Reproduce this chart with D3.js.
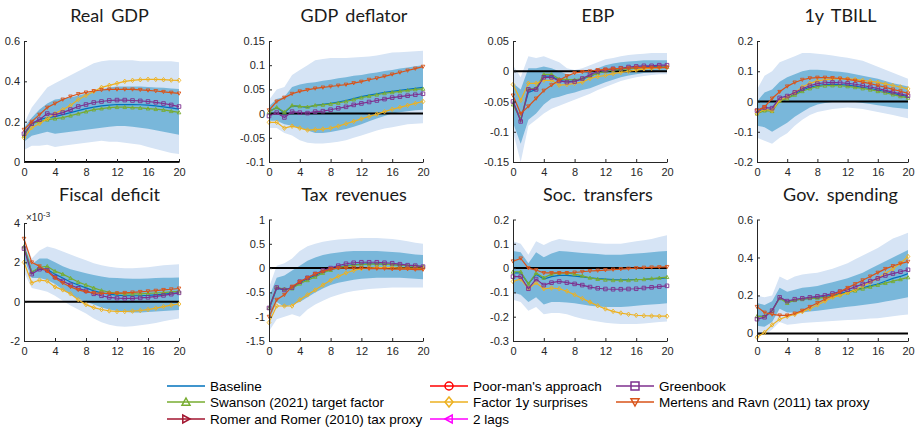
<!DOCTYPE html>
<html>
<head>
<meta charset="utf-8">
<script src="https://cdn.jsdelivr.net/npm/d3@7"></script>
<style>
  body { margin: 0; background: #fff; }
  svg { display: block; }
</style>
</head>
<body>
<svg id="chart" width="916" height="427"></svg>
<script>
(function () {
  'use strict';

  // ── Data: horizons (quarters) ──
  var HORIZONS = [0, 1, 2, 3, 4, 5, 6, 7, 8, 9, 10, 11, 12, 13, 14, 15, 16, 17, 18, 19, 20];
  var X_TICKS = [0, 4, 8, 12, 16, 20];

  // ── Real GDP ──
  var gdpOuterHi = [0.19, 0.27, 0.32, 0.37, 0.39, 0.41, 0.43, 0.45, 0.47, 0.49, 0.50, 0.505, 0.505, 0.505, 0.505, 0.50, 0.50, 0.50, 0.50, 0.50, 0.495];
  var gdpOuterLo = [0.06, 0.08, 0.08, 0.085, 0.075, 0.08, 0.085, 0.09, 0.095, 0.10, 0.105, 0.10, 0.10, 0.095, 0.09, 0.085, 0.075, 0.065, 0.055, 0.045, 0.04];
  var gdpInnerHi = [0.17, 0.22, 0.26, 0.29, 0.31, 0.315, 0.32, 0.33, 0.34, 0.35, 0.36, 0.37, 0.375, 0.375, 0.375, 0.375, 0.372, 0.37, 0.368, 0.365, 0.362];
  var gdpInnerLo = [0.10, 0.13, 0.14, 0.15, 0.14, 0.145, 0.15, 0.155, 0.16, 0.165, 0.17, 0.175, 0.178, 0.178, 0.175, 0.17, 0.165, 0.158, 0.15, 0.142, 0.135];
  var gdpBase = [0.14, 0.19, 0.21, 0.22, 0.225, 0.235, 0.245, 0.255, 0.265, 0.272, 0.278, 0.282, 0.285, 0.285, 0.285, 0.284, 0.282, 0.278, 0.273, 0.268, 0.262];
  var gdpSwanson = [0.13, 0.19, 0.20, 0.21, 0.215, 0.22, 0.23, 0.24, 0.25, 0.26, 0.265, 0.27, 0.272, 0.272, 0.27, 0.268, 0.265, 0.262, 0.258, 0.252, 0.246];
  var gdpFactor = [0.12, 0.17, 0.19, 0.215, 0.24, 0.26, 0.28, 0.31, 0.33, 0.35, 0.37, 0.38, 0.39, 0.40, 0.405, 0.408, 0.41, 0.41, 0.408, 0.406, 0.405];
  var gdpGreenbook = [0.14, 0.19, 0.21, 0.24, 0.235, 0.245, 0.26, 0.275, 0.285, 0.295, 0.30, 0.305, 0.307, 0.307, 0.305, 0.303, 0.30, 0.296, 0.29, 0.283, 0.275];
  var gdpMertens = [0.16, 0.20, 0.235, 0.27, 0.29, 0.31, 0.325, 0.337, 0.345, 0.352, 0.357, 0.36, 0.36, 0.36, 0.36, 0.358, 0.355, 0.352, 0.348, 0.344, 0.34];

  // ── GDP deflator ──
  var defOuterHi = [0.028, 0.05, 0.055, 0.08, 0.09, 0.10, 0.11, 0.113, 0.115, 0.115, 0.115, 0.116, 0.117, 0.118, 0.12, 0.123, 0.126, 0.127, 0.128, 0.129, 0.13];
  var defOuterLo = [-0.03, -0.03, -0.04, -0.045, -0.055, -0.06, -0.062, -0.062, -0.06, -0.058, -0.055, -0.05, -0.045, -0.04, -0.035, -0.031, -0.028, -0.025, -0.022, -0.021, -0.02];
  var defInnerHi = [0.015, 0.03, 0.035, 0.055, 0.06, 0.063, 0.065, 0.068, 0.07, 0.073, 0.075, 0.078, 0.08, 0.083, 0.085, 0.088, 0.09, 0.093, 0.095, 0.098, 0.10];
  var defInnerLo = [-0.015, -0.015, -0.022, -0.025, -0.03, -0.035, -0.04, -0.04, -0.038, -0.035, -0.032, -0.027, -0.022, -0.016, -0.01, -0.005, 0.0, 0.003, 0.005, 0.007, 0.008];
  var defBase = [0.005, 0.012, 0.002, 0.016, 0.015, 0.013, 0.017, 0.019, 0.021, 0.024, 0.027, 0.031, 0.035, 0.038, 0.041, 0.044, 0.046, 0.048, 0.05, 0.052, 0.054];
  var defSwanson = [0.003, 0.013, 0.003, 0.017, 0.015, 0.014, 0.017, 0.018, 0.02, 0.022, 0.025, 0.029, 0.033, 0.036, 0.039, 0.042, 0.044, 0.046, 0.048, 0.05, 0.051];
  var defFactor = [-0.018, -0.018, -0.03, -0.026, -0.03, -0.034, -0.033, -0.032, -0.03, -0.026, -0.021, -0.016, -0.011, -0.006, -0.001, 0.004, 0.009, 0.013, 0.017, 0.021, 0.025];
  var defGreenbook = [-0.005, 0.002, -0.008, 0.004, 0.002, 0.001, 0.004, 0.005, 0.008, 0.011, 0.014, 0.018, 0.021, 0.024, 0.027, 0.03, 0.033, 0.035, 0.037, 0.039, 0.041];
  var defMertens = [0.007, 0.025, 0.033, 0.041, 0.046, 0.049, 0.052, 0.054, 0.056, 0.058, 0.06, 0.063, 0.066, 0.07, 0.073, 0.077, 0.081, 0.085, 0.089, 0.093, 0.097];

  // ── EBP ──
  var ebpOuterHi = [0.01, -0.01, 0.025, 0.022, 0.025, 0.02, 0.015, 0.005, 0.002, 0.005, 0.01, 0.015, 0.02, 0.022, 0.025, 0.027, 0.028, 0.029, 0.03, 0.03, 0.03];
  var ebpOuterLo = [-0.10, -0.15, -0.09, -0.08, -0.07, -0.062, -0.057, -0.052, -0.047, -0.042, -0.037, -0.031, -0.026, -0.021, -0.016, -0.013, -0.01, -0.008, -0.006, -0.005, -0.005];
  var ebpInnerHi = [-0.02, -0.03, 0.005, 0.005, 0.008, 0.005, 0.0, -0.005, -0.005, -0.003, 0.0, 0.005, 0.01, 0.013, 0.015, 0.016, 0.017, 0.018, 0.018, 0.018, 0.018];
  var ebpInnerLo = [-0.085, -0.12, -0.08, -0.07, -0.055, -0.045, -0.042, -0.038, -0.035, -0.031, -0.028, -0.023, -0.018, -0.014, -0.01, -0.007, -0.005, -0.003, -0.002, -0.001, 0.0];
  var ebpBase = [-0.05, -0.08, -0.035, -0.03, -0.008, -0.008, -0.015, -0.017, -0.016, -0.013, -0.008, -0.003, 0, 0.002, 0.004, 0.005, 0.006, 0.007, 0.008, 0.008, 0.008];
  var ebpSwanson = [-0.055, -0.08, -0.03, -0.028, -0.005, -0.005, -0.013, -0.014, -0.014, -0.012, -0.008, -0.003, 0, 0.002, 0.003, 0.004, 0.005, 0.006, 0.006, 0.007, 0.007];
  var ebpFactor = [-0.022, -0.048, -0.02, -0.02, -0.015, -0.015, -0.023, -0.022, -0.02, -0.018, -0.012, -0.009, -0.007, -0.004, -0.002, 0, 0.002, 0.004, 0.005, 0.006, 0.007];
  var ebpGreenbook = [-0.05, -0.083, -0.03, -0.03, -0.01, -0.01, -0.016, -0.018, -0.017, -0.012, -0.006, 0, 0.002, 0.004, 0.005, 0.007, 0.008, 0.009, 0.009, 0.01, 0.01];
  var ebpMertens = [-0.04, -0.07, -0.058, -0.045, -0.032, -0.023, -0.015, -0.008, -0.003, -0.001, 0, 0.002, 0.003, 0.004, 0.005, 0.005, 0.006, 0.006, 0.006, 0.006, 0.006];

  // ── 1y TBILL ──
  var tbOuterHi = [0.04, 0.085, 0.10, 0.13, 0.14, 0.15, 0.16, 0.16, 0.158, 0.155, 0.152, 0.148, 0.145, 0.14, 0.135, 0.125, 0.115, 0.105, 0.095, 0.085, 0.075];
  var tbOuterLo = [-0.12, -0.13, -0.14, -0.12, -0.105, -0.08, -0.06, -0.045, -0.035, -0.03, -0.025, -0.022, -0.02, -0.022, -0.025, -0.03, -0.035, -0.04, -0.045, -0.05, -0.055];
  var tbInnerHi = [0.0, 0.03, 0.04, 0.065, 0.08, 0.09, 0.10, 0.105, 0.105, 0.103, 0.10, 0.098, 0.095, 0.09, 0.085, 0.08, 0.075, 0.068, 0.06, 0.055, 0.05];
  var tbInnerLo = [-0.08, -0.085, -0.10, -0.085, -0.07, -0.05, -0.035, -0.02, -0.01, -0.005, -0.002, 0.0, 0.0, -0.002, -0.005, -0.008, -0.012, -0.016, -0.02, -0.022, -0.025];
  var tbBase = [-0.035, -0.025, -0.028, 0.005, 0.013, 0.025, 0.038, 0.047, 0.053, 0.056, 0.057, 0.056, 0.054, 0.051, 0.047, 0.043, 0.038, 0.033, 0.027, 0.021, 0.016];
  var tbSwanson = [-0.04, -0.03, -0.032, 0.002, 0.01, 0.022, 0.034, 0.043, 0.049, 0.052, 0.053, 0.052, 0.05, 0.047, 0.043, 0.039, 0.034, 0.029, 0.023, 0.017, 0.012];
  var tbFactor = [-0.04, -0.025, -0.03, 0.005, 0.015, 0.03, 0.048, 0.06, 0.068, 0.072, 0.075, 0.076, 0.075, 0.073, 0.07, 0.067, 0.063, 0.058, 0.053, 0.048, 0.042];
  var tbGreenbook = [-0.03, -0.02, -0.022, 0.012, 0.018, 0.03, 0.042, 0.052, 0.059, 0.062, 0.063, 0.062, 0.06, 0.057, 0.053, 0.048, 0.043, 0.037, 0.031, 0.025, 0.019];
  var tbMertens = [-0.03, -0.018, 0.01, 0.032, 0.05, 0.063, 0.072, 0.077, 0.079, 0.079, 0.078, 0.076, 0.073, 0.069, 0.064, 0.059, 0.053, 0.047, 0.04, 0.034, 0.027];

  // ── Fiscal deficit (x 1e-3) ──
  var fdOuterHi = [3.2, 2.2, 2.6, 2.8, 2.7, 2.55, 2.4, 2.25, 2.1, 1.95, 1.85, 1.78, 1.72, 1.7, 1.7, 1.72, 1.75, 1.8, 1.85, 1.88, 1.9];
  var fdOuterLo = [1.5, 0.7, 0.6, 0.5, 0.3, 0.05, -0.2, -0.4, -0.6, -0.85, -1.05, -1.18, -1.25, -1.27, -1.25, -1.2, -1.15, -1.08, -1.0, -0.92, -0.85];
  var fdInnerHi = [2.9, 1.9, 2.2, 2.2, 2.0, 1.8, 1.65, 1.55, 1.45, 1.35, 1.28, 1.22, 1.2, 1.18, 1.17, 1.17, 1.18, 1.2, 1.21, 1.22, 1.23];
  var fdInnerLo = [2.2, 1.2, 1.2, 1.1, 0.9, 0.6, 0.35, 0.15, 0.0, -0.15, -0.3, -0.4, -0.48, -0.52, -0.55, -0.55, -0.53, -0.5, -0.47, -0.45, -0.42];
  var fdBase = [2.8, 1.5, 1.7, 1.65, 1.4, 1.2, 1.0, 0.85, 0.7, 0.55, 0.45, 0.38, 0.33, 0.3, 0.3, 0.3, 0.32, 0.35, 0.38, 0.42, 0.45];
  var fdSwanson = [2.8, 1.5, 1.75, 1.8, 1.55, 1.4, 1.2, 1.0, 0.85, 0.7, 0.57, 0.48, 0.43, 0.4, 0.4, 0.4, 0.42, 0.44, 0.46, 0.5, 0.52];
  var fdFactor = [2.0, 0.95, 1.1, 1.05, 0.75, 0.6, 0.4, 0.1, -0.15, -0.3, -0.4, -0.47, -0.5, -0.5, -0.48, -0.45, -0.4, -0.33, -0.25, -0.18, -0.12];
  var fdGreenbook = [2.7, 1.4, 1.65, 1.6, 1.25, 1.05, 0.85, 0.68, 0.55, 0.4, 0.3, 0.22, 0.18, 0.17, 0.17, 0.19, 0.22, 0.27, 0.32, 0.38, 0.45];
  var fdMertens = [3.2, 2.0, 1.8, 1.55, 1.2, 0.95, 0.75, 0.6, 0.5, 0.45, 0.42, 0.42, 0.43, 0.45, 0.47, 0.5, 0.53, 0.56, 0.6, 0.63, 0.67];

  // ── Tax revenues ──
  var txOuterHi = [-0.4, 0.05, 0.1, 0.2, 0.35, 0.45, 0.5, 0.54, 0.57, 0.59, 0.6, 0.61, 0.62, 0.62, 0.62, 0.61, 0.6, 0.58, 0.55, 0.52, 0.5];
  var txOuterLo = [-1.3, -1.05, -1.0, -0.95, -1.0, -0.85, -0.75, -0.67, -0.6, -0.55, -0.5, -0.47, -0.45, -0.43, -0.42, -0.41, -0.4, -0.4, -0.4, -0.4, -0.4];
  var txInnerHi = [-0.6, -0.2, -0.15, -0.05, 0.05, 0.15, 0.22, 0.27, 0.3, 0.32, 0.34, 0.35, 0.35, 0.35, 0.35, 0.34, 0.33, 0.32, 0.3, 0.28, 0.27];
  var txInnerLo = [-1.1, -0.7, -0.8, -0.75, -0.7, -0.6, -0.5, -0.42, -0.35, -0.3, -0.27, -0.24, -0.22, -0.21, -0.2, -0.2, -0.2, -0.2, -0.21, -0.22, -0.23];
  var txBase = [-0.85, -0.42, -0.45, -0.4, -0.3, -0.22, -0.15, -0.08, -0.03, 0.02, 0.05, 0.07, 0.08, 0.09, 0.09, 0.08, 0.07, 0.06, 0.05, 0.04, 0.03];
  var txSwanson = [-0.82, -0.4, -0.43, -0.42, -0.32, -0.25, -0.18, -0.1, -0.04, 0.01, 0.04, 0.06, 0.07, 0.08, 0.08, 0.08, 0.07, 0.06, 0.05, 0.04, 0.03];
  var txFactor = [-1.12, -0.78, -0.78, -0.78, -0.65, -0.55, -0.45, -0.35, -0.25, -0.17, -0.1, -0.05, -0.01, 0.0, 0.01, 0.01, 0.01, 0.0, 0.0, 0.0, 0.0];
  var txGreenbook = [-0.82, -0.4, -0.45, -0.4, -0.28, -0.2, -0.12, -0.05, 0.0, 0.05, 0.09, 0.11, 0.12, 0.12, 0.12, 0.11, 0.1, 0.08, 0.06, 0.05, 0.03];
  var txMertens = [-1.0, -0.65, -0.55, -0.38, -0.28, -0.2, -0.12, -0.07, -0.02, 0.0, 0.0, 0.0, 0.0, -0.01, -0.01, -0.01, -0.02, -0.02, -0.02, -0.03, -0.03];

  // ── Soc. transfers ──
  var stOuterHi = [0.11, 0.10, 0.055, 0.11, 0.095, 0.11, 0.12, 0.115, 0.11, 0.108, 0.105, 0.102, 0.10, 0.10, 0.10, 0.105, 0.11, 0.115, 0.12, 0.128, 0.135];
  var stOuterLo = [-0.13, -0.14, -0.175, -0.16, -0.19, -0.185, -0.185, -0.19, -0.2, -0.208, -0.215, -0.22, -0.225, -0.228, -0.23, -0.23, -0.23, -0.228, -0.225, -0.222, -0.22];
  var stInnerHi = [0.07, 0.065, 0.02, 0.065, 0.045, 0.06, 0.07, 0.068, 0.065, 0.062, 0.06, 0.058, 0.055, 0.055, 0.055, 0.058, 0.06, 0.062, 0.065, 0.068, 0.07];
  var stInnerLo = [-0.1, -0.11, -0.14, -0.12, -0.15, -0.14, -0.14, -0.142, -0.145, -0.15, -0.155, -0.158, -0.16, -0.16, -0.16, -0.158, -0.155, -0.152, -0.15, -0.148, -0.145];
  var stBase = [-0.02, -0.02, -0.065, -0.025, -0.045, -0.035, -0.03, -0.03, -0.033, -0.036, -0.04, -0.043, -0.045, -0.047, -0.048, -0.048, -0.047, -0.046, -0.044, -0.042, -0.04];
  var stSwanson = [-0.015, -0.015, -0.065, -0.02, -0.04, -0.025, -0.02, -0.02, -0.025, -0.032, -0.04, -0.045, -0.048, -0.05, -0.05, -0.05, -0.048, -0.046, -0.043, -0.04, -0.037];
  var stFactor = [-0.055, -0.045, -0.085, -0.06, -0.085, -0.082, -0.085, -0.095, -0.11, -0.125, -0.14, -0.155, -0.168, -0.178, -0.185, -0.19, -0.194, -0.196, -0.197, -0.198, -0.198];
  var stGreenbook = [-0.035, -0.035, -0.085, -0.045, -0.07, -0.06, -0.055, -0.06, -0.065, -0.07, -0.078, -0.083, -0.086, -0.087, -0.087, -0.086, -0.085, -0.082, -0.079, -0.076, -0.073];
  var stMertens = [0.028, 0.04, 0.0, -0.008, -0.02, -0.02, -0.02, -0.02, -0.018, -0.015, -0.012, -0.01, -0.008, -0.006, -0.004, -0.002, 0.0, 0.002, 0.003, 0.004, 0.005];

  // ── Gov. spending ──
  var gsOuterHi = [0.2, 0.19, 0.2, 0.3, 0.28, 0.3, 0.31, 0.315, 0.32, 0.33, 0.34, 0.355, 0.37, 0.39, 0.41, 0.43, 0.45, 0.475, 0.5, 0.515, 0.53];
  var gsOuterLo = [0.01, -0.01, 0.02, 0.06, 0.045, 0.05, 0.055, 0.058, 0.06, 0.063, 0.065, 0.068, 0.07, 0.072, 0.075, 0.078, 0.08, 0.085, 0.09, 0.095, 0.1];
  var gsInnerHi = [0.16, 0.15, 0.17, 0.24, 0.22, 0.23, 0.24, 0.245, 0.25, 0.26, 0.27, 0.28, 0.29, 0.305, 0.32, 0.34, 0.36, 0.38, 0.4, 0.42, 0.44];
  var gsInnerLo = [0.04, 0.035, 0.06, 0.13, 0.11, 0.11, 0.11, 0.115, 0.12, 0.125, 0.13, 0.135, 0.14, 0.145, 0.15, 0.155, 0.16, 0.168, 0.175, 0.182, 0.19];
  var gsBase = [0.09, 0.09, 0.12, 0.19, 0.165, 0.175, 0.18, 0.185, 0.19, 0.195, 0.2, 0.21, 0.22, 0.23, 0.24, 0.25, 0.26, 0.275, 0.29, 0.3, 0.315];
  var gsSwanson = [0.09, 0.09, 0.12, 0.185, 0.16, 0.175, 0.18, 0.185, 0.185, 0.19, 0.195, 0.205, 0.215, 0.225, 0.235, 0.245, 0.255, 0.265, 0.275, 0.285, 0.295];
  var gsFactor = [-0.02, 0.005, 0.045, 0.075, 0.09, 0.1, 0.115, 0.13, 0.15, 0.17, 0.19, 0.2, 0.215, 0.23, 0.25, 0.27, 0.29, 0.315, 0.34, 0.37, 0.405];
  var gsGreenbook = [0.075, 0.085, 0.12, 0.19, 0.17, 0.18, 0.185, 0.19, 0.195, 0.2, 0.21, 0.22, 0.23, 0.245, 0.26, 0.275, 0.29, 0.305, 0.315, 0.325, 0.335];
  var gsMertens = [0.14, 0.11, 0.1, 0.095, 0.095, 0.105, 0.12, 0.14, 0.16, 0.18, 0.2, 0.22, 0.24, 0.26, 0.28, 0.3, 0.32, 0.34, 0.355, 0.368, 0.378];

  // ── Series / legend ──
  var SERIES = [
    { key: 'base', name: 'Baseline', color: '#0072BD', marker: null },
    { key: 'swanson', name: 'Swanson (2021) target factor', color: '#77AC30', marker: 'triUp' },
    { key: 'romer', name: 'Romer and Romer (2010) tax proxy', color: '#A2142F', marker: 'triRight' },
    { key: 'poor', name: "Poor-man's approach", color: '#FF0000', marker: 'circle' },
    { key: 'factor', name: 'Factor 1y surprises', color: '#EDB120', marker: 'diamond' },
    { key: 'lags', name: '2 lags', color: '#FF00FF', marker: 'triLeft' },
    { key: 'greenbook', name: 'Greenbook', color: '#7E2F8E', marker: 'square' },
    { key: 'mertens', name: 'Mertens and Ravn (2011) tax proxy', color: '#D95319', marker: 'triDown' }
  ];

  var PANELS = [
    { title: 'Real GDP', row: 0, col: 0, domain: [0, 0.6], ticks: [0, 0.2, 0.4, 0.6],
      bands: [gdpOuterLo, gdpOuterHi, gdpInnerLo, gdpInnerHi],
      lines: { base: gdpBase, swanson: gdpSwanson, factor: gdpFactor, greenbook: gdpGreenbook, mertens: gdpMertens } },
    { title: 'GDP deflator', row: 0, col: 1, domain: [-0.1, 0.15], ticks: [-0.1, -0.05, 0, 0.05, 0.1, 0.15],
      bands: [defOuterLo, defOuterHi, defInnerLo, defInnerHi],
      lines: { base: defBase, swanson: defSwanson, factor: defFactor, greenbook: defGreenbook, mertens: defMertens } },
    { title: 'EBP', row: 0, col: 2, domain: [-0.15, 0.05], ticks: [-0.15, -0.1, -0.05, 0, 0.05],
      bands: [ebpOuterLo, ebpOuterHi, ebpInnerLo, ebpInnerHi],
      lines: { base: ebpBase, swanson: ebpSwanson, factor: ebpFactor, greenbook: ebpGreenbook, mertens: ebpMertens } },
    { title: '1y TBILL', row: 0, col: 3, domain: [-0.2, 0.2], ticks: [-0.2, -0.1, 0, 0.1, 0.2],
      bands: [tbOuterLo, tbOuterHi, tbInnerLo, tbInnerHi],
      lines: { base: tbBase, swanson: tbSwanson, factor: tbFactor, greenbook: tbGreenbook, mertens: tbMertens } },
    { title: 'Fiscal deficit', row: 1, col: 0, domain: [-2, 4], ticks: [-2, 0, 2, 4], exponent: '-3',
      bands: [fdOuterLo, fdOuterHi, fdInnerLo, fdInnerHi],
      lines: { base: fdBase, swanson: fdSwanson, factor: fdFactor, greenbook: fdGreenbook, mertens: fdMertens } },
    { title: 'Tax revenues', row: 1, col: 1, domain: [-1.5, 1], ticks: [-1.5, -1, -0.5, 0, 0.5, 1],
      bands: [txOuterLo, txOuterHi, txInnerLo, txInnerHi],
      lines: { base: txBase, swanson: txSwanson, factor: txFactor, greenbook: txGreenbook, mertens: txMertens } },
    { title: 'Soc. transfers', row: 1, col: 2, domain: [-0.3, 0.2], ticks: [-0.3, -0.2, -0.1, 0, 0.1, 0.2],
      bands: [stOuterLo, stOuterHi, stInnerLo, stInnerHi],
      lines: { base: stBase, swanson: stSwanson, factor: stFactor, greenbook: stGreenbook, mertens: stMertens } },
    { title: 'Gov. spending', row: 1, col: 3, domain: [-0.04, 0.6], ticks: [0, 0.2, 0.4, 0.6],
      bands: [gsOuterLo, gsOuterHi, gsInnerLo, gsInnerHi],
      lines: { base: gsBase, swanson: gsSwanson, factor: gsFactor, greenbook: gsGreenbook, mertens: gsMertens } }
  ];

  // ── Layout ──
  var COL_LEFT = [24, 269, 513, 757];
  var COL_W = [155, 154, 154, 151];
  var ROW_TOP = [41, 219.5];
  var ROW_BOTTOM = [162, 341];
  var EXP_TOP = 223;
  var TITLE_Y = [22, 201];
  var TITLE_SHIFT = 8;
  var MARKER_SIZE = 1.8;
  var OUTER_BAND = '#d6e4f5';
  var INNER_BAND = '#79b7da';
  var AXIS_COLOR = '#262626';
  var TICK_FONT = '"Liberation Sans", Arial, sans-serif';
  var TITLE_FONT = 'Lato, "Open Sans", sans-serif';

  var svg = d3.select('#chart');

  function fmt(d) { return String(+d.toFixed(3)); }

  function markerPath(shape, s) {
    switch (shape) {
      case 'triUp': return 'M0,' + (-s) + 'L' + s + ',' + (s * 0.8) + 'L' + (-s) + ',' + (s * 0.8) + 'Z';
      case 'triDown': return 'M0,' + s + 'L' + s + ',' + (-s * 0.8) + 'L' + (-s) + ',' + (-s * 0.8) + 'Z';
      case 'triRight': return 'M' + s + ',0L' + (-s * 0.8) + ',' + (-s) + 'L' + (-s * 0.8) + ',' + s + 'Z';
      case 'triLeft': return 'M' + (-s) + ',0L' + (s * 0.8) + ',' + (-s) + 'L' + (s * 0.8) + ',' + s + 'Z';
      case 'square': return 'M' + (-s) + ',' + (-s) + 'h' + (2 * s) + 'v' + (2 * s) + 'h' + (-2 * s) + 'Z';
      case 'diamond': return 'M0,' + (-s * 1.25) + 'L' + s + ',0L0,' + (s * 1.25) + 'L' + (-s) + ',0Z';
      case 'circle': return d3.arc()({ innerRadius: 0, outerRadius: s, startAngle: 0, endAngle: 2 * Math.PI });
    }
    return '';
  }

  // ── Panels ──
  PANELS.forEach(function (p) {
    var left = COL_LEFT[p.col];
    var width = COL_W[p.col];
    var top = p.exponent ? EXP_TOP : ROW_TOP[p.row];
    var bottom = ROW_BOTTOM[p.row];

    var x = d3.scaleLinear().domain([0, 20]).range([left, left + width]);
    var y = d3.scaleLinear().domain(p.domain).range([bottom, top]);

    var g = svg.append('g').attr('class', 'panel');

    // bands
    var area = function (lo, hi) {
      return d3.area()
        .x(function (d, i) { return x(HORIZONS[i]); })
        .y0(function (d, i) { return y(lo[i]); })
        .y1(function (d, i) { return y(hi[i]); })(HORIZONS);
    };
    g.append('path').attr('d', area(p.bands[0], p.bands[1])).attr('fill', OUTER_BAND);
    g.append('path').attr('d', area(p.bands[2], p.bands[3])).attr('fill', INNER_BAND);

    // zero line
    g.append('line')
      .attr('x1', x(0)).attr('x2', x(20))
      .attr('y1', y(0)).attr('y2', y(0))
      .attr('stroke', '#000').attr('stroke-width', 2);

    // series
    SERIES.forEach(function (s) {
      var vals = p.lines[s.key];
      if (!vals) return;
      var line = d3.line()
        .x(function (d, i) { return x(HORIZONS[i]); })
        .y(function (d) { return y(d); });
      g.append('path')
        .attr('d', line(vals))
        .attr('fill', 'none')
        .attr('stroke', s.color)
        .attr('stroke-width', 1.2);
      if (s.marker) {
        g.selectAll(null)
          .data(vals)
          .join('path')
          .attr('transform', function (d, i) { return 'translate(' + x(HORIZONS[i]) + ',' + y(d) + ')'; })
          .attr('d', markerPath(s.marker, MARKER_SIZE))
          .attr('fill', 'none')
          .attr('stroke', s.color)
          .attr('stroke-width', 0.9);
      }
    });

    // axes
    var xAxis = g.append('g')
      .attr('transform', 'translate(0,' + bottom + ')')
      .call(d3.axisBottom(x).tickValues(X_TICKS).tickSizeInner(-3).tickSizeOuter(0).tickPadding(6));
    var yAxis = g.append('g')
      .attr('transform', 'translate(' + left + ',0)')
      .call(d3.axisLeft(y).tickValues(p.ticks).tickFormat(fmt).tickSizeInner(-3).tickSizeOuter(0).tickPadding(4));

    [xAxis, yAxis].forEach(function (ax) {
      ax.select('.domain').attr('stroke', AXIS_COLOR);
      ax.selectAll('.tick line').attr('stroke', AXIS_COLOR);
      ax.selectAll('.tick text')
        .attr('fill', AXIS_COLOR)
        .attr('font-size', '11px')
        .attr('font-family', TICK_FONT);
    });

    if (p.exponent) {
      var et = g.append('text')
        .attr('x', left + 2).attr('y', top - 2.5)
        .attr('fill', AXIS_COLOR)
        .attr('font-size', '10px')
        .attr('font-family', TICK_FONT)
        .text('\u00d710');
      et.append('tspan').attr('dy', -4).attr('font-size', '8px').text(p.exponent);
    }

    // title
    g.append('text')
      .attr('x', left + width / 2 + TITLE_SHIFT)
      .attr('y', TITLE_Y[p.row])
      .attr('text-anchor', 'middle')
      .attr('fill', '#1a1a1a')
      .attr('font-size', '18px')
      .attr('font-family', TITLE_FONT)
      .style('word-spacing', '3px')
      .text(p.title);
  });

  // ── Legend ──
  var LEG_COL_X = [167, 430, 616];
  var LEG_ROW_Y = [386, 402, 419];
  var LEG_LINE_W = 38;

  var legend = svg.append('g').attr('class', 'legend');
  SERIES.forEach(function (s, i) {
    var cx = LEG_COL_X[Math.floor(i / 3)];
    var cy = LEG_ROW_Y[i % 3];
    var item = legend.append('g');
    item.append('line')
      .attr('x1', cx).attr('x2', cx + LEG_LINE_W)
      .attr('y1', cy).attr('y2', cy)
      .attr('stroke', s.color).attr('stroke-width', 1.5);
    if (s.marker) {
      item.append('path')
        .attr('transform', 'translate(' + (cx + LEG_LINE_W / 2) + ',' + cy + ')')
        .attr('d', markerPath(s.marker, 4))
        .attr('fill', 'none')
        .attr('stroke', s.color)
        .attr('stroke-width', 1.5);
    }
    item.append('text')
      .attr('x', cx + LEG_LINE_W + 5)
      .attr('y', cy)
      .attr('dy', '0.35em')
      .attr('fill', '#000')
      .attr('font-size', '13.5px')
      .attr('font-family', TICK_FONT)
      .text(s.name);
  });
})();
</script>
</body>
</html>
